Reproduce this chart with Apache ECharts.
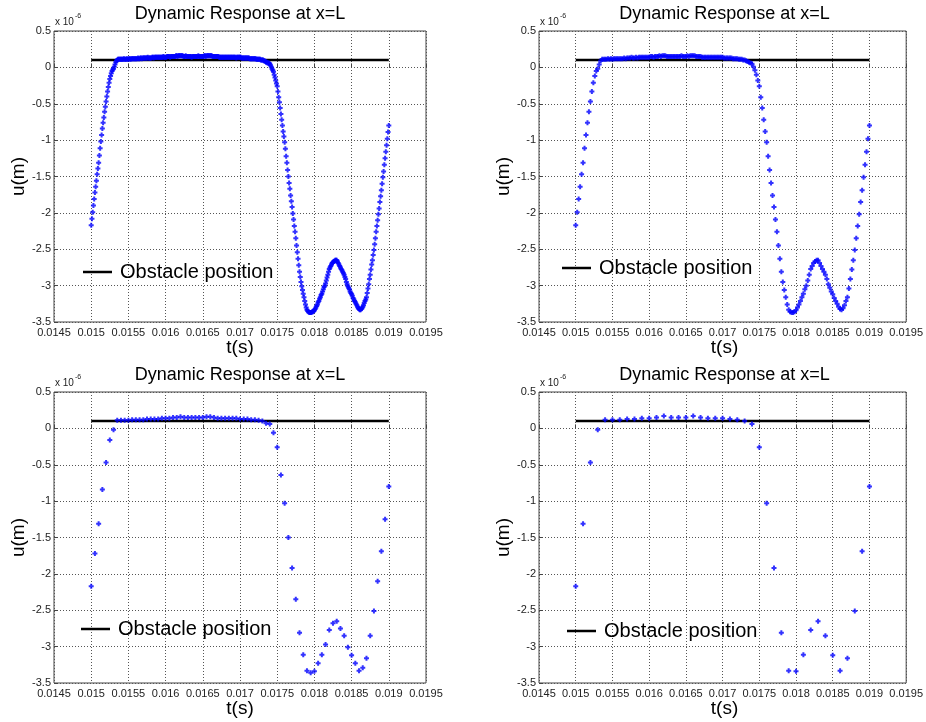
<!DOCTYPE html>
<html><head><meta charset="utf-8">
<script src="https://cdn.jsdelivr.net/npm/echarts@6/dist/echarts.min.js"></script>
<style>html,body{margin:0;padding:0;background:#fff}#c{width:926px;height:722px}</style>
</head><body><div id="c"></div>
<script>
// time sampling of each panel (s)
const tStart = 0.015;
const dt1 = 0.00001, dt2 = 0.00002, dt3 = 0.00005, dt4 = 0.0001;

// u(m) values, in units of 1e-6 m
const u1 = [
-2.17,-2.08,-1.99,-1.90,-1.81,-1.72,-1.64,-1.56,-1.47,-1.39,
-1.31,-1.21,-1.11,-1.02,-0.93,-0.84,-0.76,-0.69,-0.61,-0.54,
-0.47,-0.40,-0.33,-0.27,-0.21,-0.16,-0.12,-0.08,-0.05,-0.03,
-0.02,0.01,0.04,0.07,0.09,0.10,0.11,0.11,0.11,0.11,
0.11,0.11,0.11,0.11,0.12,0.11,0.11,0.11,0.12,0.11,
0.11,0.12,0.12,0.11,0.12,0.12,0.12,0.12,0.12,0.12,
0.12,0.12,0.12,0.13,0.12,0.12,0.13,0.13,0.12,0.13,
0.13,0.13,0.13,0.13,0.13,0.13,0.14,0.13,0.13,0.13,
0.13,0.13,0.14,0.14,0.13,0.14,0.14,0.14,0.14,0.14,
0.14,0.14,0.14,0.14,0.14,0.14,0.14,0.15,0.14,0.14,
0.14,0.14,0.15,0.15,0.15,0.15,0.14,0.15,0.15,0.15,
0.15,0.15,0.15,0.15,0.16,0.16,0.15,0.16,0.16,0.16,
0.16,0.16,0.16,0.16,0.15,0.15,0.15,0.16,0.15,0.15,
0.15,0.15,0.15,0.15,0.15,0.14,0.15,0.15,0.15,0.15,
0.15,0.15,0.15,0.15,0.16,0.15,0.15,0.15,0.15,0.15,
0.15,0.15,0.16,0.16,0.15,0.16,0.16,0.16,0.16,0.16,
0.16,0.16,0.16,0.15,0.15,0.15,0.15,0.15,0.15,0.15,
0.15,0.15,0.14,0.14,0.14,0.14,0.14,0.14,0.14,0.14,
0.14,0.14,0.14,0.14,0.14,0.14,0.14,0.14,0.14,0.14,
0.14,0.14,0.14,0.14,0.14,0.13,0.14,0.14,0.14,0.14,
0.14,0.14,0.13,0.13,0.13,0.13,0.13,0.13,0.13,0.13,
0.13,0.13,0.13,0.12,0.12,0.12,0.12,0.12,0.12,0.12,
0.12,0.12,0.11,0.11,0.11,0.11,0.11,0.11,0.10,0.10,
0.10,0.10,0.09,0.09,0.08,0.07,0.07,0.06,0.06,0.06,
0.05,0.03,0.01,-0.02,-0.04,-0.06,-0.10,-0.14,-0.18,-0.22,
-0.26,-0.33,-0.41,-0.48,-0.56,-0.64,-0.72,-0.80,-0.88,-0.95,
-1.03,-1.12,-1.22,-1.31,-1.41,-1.50,-1.59,-1.67,-1.76,-1.84,
-1.92,-2.01,-2.09,-2.18,-2.26,-2.35,-2.45,-2.54,-2.63,-2.72,
-2.81,-2.88,-2.95,-3.01,-3.06,-3.11,-3.16,-3.21,-3.26,-3.30,
-3.33,-3.35,-3.36,-3.37,-3.37,-3.37,-3.37,-3.36,-3.36,-3.35,
-3.34,-3.32,-3.30,-3.28,-3.26,-3.23,-3.21,-3.18,-3.16,-3.13,
-3.11,-3.08,-3.05,-3.02,-3.00,-2.97,-2.93,-2.89,-2.85,-2.81,
-2.77,-2.75,-2.73,-2.71,-2.69,-2.68,-2.67,-2.66,-2.65,-2.65,
-2.65,-2.67,-2.69,-2.71,-2.73,-2.75,-2.77,-2.79,-2.81,-2.83,
-2.85,-2.88,-2.91,-2.95,-2.98,-3.01,-3.03,-3.05,-3.08,-3.10,
-3.12,-3.14,-3.17,-3.19,-3.21,-3.23,-3.25,-3.27,-3.29,-3.31,
-3.32,-3.33,-3.33,-3.32,-3.31,-3.29,-3.27,-3.24,-3.21,-3.19,
-3.16,-3.10,-3.04,-2.98,-2.91,-2.85,-2.78,-2.71,-2.65,-2.58,
-2.51,-2.43,-2.35,-2.26,-2.18,-2.10,-2.02,-1.94,-1.85,-1.77,
-1.69,-1.60,-1.51,-1.43,-1.34,-1.25,-1.16,-1.07,-0.98,-0.89,
-0.80
];
const u2 = [
-2.17,-1.99,-1.81,-1.64,-1.47,
-1.31,-1.11,-0.93,-0.76,-0.61,
-0.47,-0.33,-0.21,-0.12,-0.05,
-0.02,0.04,0.09,0.11,0.11,
0.11,0.11,0.12,0.11,0.12,
0.11,0.12,0.12,0.12,0.12,
0.12,0.12,0.12,0.13,0.12,
0.13,0.13,0.13,0.14,0.13,
0.13,0.14,0.13,0.14,0.14,
0.14,0.14,0.14,0.14,0.14,
0.14,0.15,0.15,0.14,0.15,
0.15,0.15,0.16,0.15,0.16,
0.16,0.16,0.15,0.15,0.15,
0.15,0.15,0.15,0.15,0.15,
0.15,0.15,0.16,0.15,0.15,
0.15,0.16,0.15,0.16,0.16,
0.16,0.16,0.15,0.15,0.15,
0.15,0.14,0.14,0.14,0.14,
0.14,0.14,0.14,0.14,0.14,
0.14,0.14,0.14,0.14,0.14,
0.14,0.13,0.13,0.13,0.13,
0.13,0.13,0.12,0.12,0.12,
0.12,0.11,0.11,0.11,0.10,
0.10,0.09,0.08,0.07,0.06,
0.05,0.01,-0.04,-0.10,-0.18,
-0.26,-0.41,-0.56,-0.72,-0.88,
-1.03,-1.22,-1.41,-1.59,-1.76,
-1.92,-2.09,-2.26,-2.45,-2.63,
-2.81,-2.95,-3.06,-3.16,-3.26,
-3.33,-3.36,-3.37,-3.37,-3.36,
-3.34,-3.30,-3.26,-3.21,-3.16,
-3.11,-3.05,-3.00,-2.93,-2.85,
-2.77,-2.73,-2.69,-2.67,-2.65,
-2.65,-2.69,-2.73,-2.77,-2.81,
-2.85,-2.91,-2.98,-3.03,-3.08,
-3.12,-3.17,-3.21,-3.25,-3.29,
-3.32,-3.33,-3.31,-3.27,-3.21,
-3.16,-3.04,-2.91,-2.78,-2.65,
-2.51,-2.35,-2.18,-2.02,-1.85,
-1.69,-1.51,-1.34,-1.16,-0.98,
-0.80
];
const u3 = [
-2.17,-1.72, -1.31,-0.84, -0.47,-0.16, -0.02,0.11,
0.11,0.11, 0.11,0.12, 0.12,0.12, 0.12,0.13, 0.13,0.13, 0.13,0.14,
0.14,0.14, 0.15,0.15, 0.16,0.15, 0.15,0.15, 0.15,0.15, 0.15,0.16,
0.16,0.15, 0.14,0.14, 0.14,0.14, 0.14,0.14, 0.13,0.13, 0.13,0.12,
0.12,0.11, 0.10,0.07, 0.06,-0.06, -0.26,-0.64, -1.03,-1.50,
-1.92,-2.35, -2.81,-3.11, -3.33,-3.36, -3.34,-3.23, -3.11,-2.97,
-2.77,-2.68, -2.65,-2.75, -2.85,-3.01, -3.12,-3.23, -3.33,-3.29,
-3.16,-2.85, -2.51,-2.10, -1.69,-1.25, -0.80
];
const u4 = [
-2.17,-1.31,-0.47,-0.02,0.12,0.12,0.12,0.13,0.13,0.14,
0.14,0.15,0.17,0.15,0.15,0.15,0.17,0.15,0.14,0.14,
0.14,0.13,0.12,0.10,0.06,-0.26,-1.03,-1.92,-2.81,-3.33,
-3.34,-3.11,-2.77,-2.65,-2.85,-3.12,-3.33,-3.16,-2.51,-1.69,
-0.80
];

// obstacle position line
const obstacleT = [0.015, 0.019];
const obstacleU = [0.1, 0.1];

// axis tick labels
const xTickLabels = ['0.0145','0.015','0.0155','0.016','0.0165','0.017','0.0175','0.018','0.0185','0.019','0.0195'];
const yTickLabels = ['-3.5','-3','-2.5','-2','-1.5','-1','-0.5','0','0.5'];

const titleText = 'Dynamic Response at x=L';
const legendName = 'Obstacle position';
const xName = 't(s)';
const yName = 'u(m)';

const panels = [
  {u:u1, dt:dt1, left:54,  top:31,  width:372, height:291, legX:83,  legY:271},
  {u:u2, dt:dt2, left:539, top:31,  width:371, height:291, legX:562, legY:267},
  {u:u3, dt:dt3, left:54,  top:392, width:372, height:291, legX:81,  legY:628},
  {u:u4, dt:dt4, left:539, top:392, width:371, height:291, legX:567, legY:630}
];

const FONT = 'Liberation Sans, Arial, sans-serif';
const plusPath = 'path://M1.5,0h2v1.5h1.5v2h-1.5v1.5h-2v-1.5h-1.5v-2h1.5z';

const grids = [], xAxes = [], yAxes = [], series = [], legends = [], graphics = [];
panels.forEach((p, i) => {
  grids.push({left:p.left, top:p.top, width:p.width, height:p.height, show:true,
    borderColor:'#444', borderWidth:1, backgroundColor:'#fff', containLabel:false});
  xAxes.push({type:'value', gridIndex:i, min:0.0145, max:0.0195, interval:0.0005,
    axisLine:{show:false}, axisTick:{show:true, inside:true, length:4, lineStyle:{color:'#444'}},
    splitLine:{show:true, lineStyle:{color:'#555', type:[1,2], width:1}},
    axisLabel:{show:true, fontSize:11, fontFamily:FONT, color:'#222', margin:5,
      showMinLabel:true, showMaxLabel:true,
      formatter: v => xTickLabels[Math.round((v - 0.0145) / 0.0005)]}});
  yAxes.push({type:'value', gridIndex:i, min:-3.5, max:0.5, interval:0.5,
    axisLine:{show:false}, axisTick:{show:true, inside:true, length:4, lineStyle:{color:'#444'}},
    splitLine:{show:true, lineStyle:{color:'#555', type:[1,2], width:1}},
    axisLabel:{show:true, fontSize:11, fontFamily:FONT, color:'#222', margin:3,
      showMinLabel:true, showMaxLabel:true,
      formatter: v => yTickLabels[Math.round((v + 3.5) / 0.5)]}});
  series.push({type:'line', name:legendName, xAxisIndex:i, yAxisIndex:i,
    data: obstacleT.map((t, k) => [t, obstacleU[k]]), symbol:'none',
    lineStyle:{color:'#000', width:2.5}, itemStyle:{color:'#000'}, z:2, silent:true});
  series.push({type:'scatter', name:'response', xAxisIndex:i, yAxisIndex:i,
    data: p.u.map((v, k) => [tStart + k * p.dt, v]), symbol:plusPath, symbolSize:5,
    itemStyle:{color:'#0000ff'}, z:3, silent:true});
  legends.push({left:p.legX, top:p.legY - 9, padding:0, itemWidth:29, itemHeight:2.5,
    icon:'rect', selectedMode:false, data:[legendName],
    textStyle:{fontSize:20, fontFamily:FONT, color:'#000', padding:[0,0,0,3]}});
  const cx = p.left + p.width / 2;
  graphics.push({type:'text', x:cx, y:p.top - 17, style:{text:titleText, font:'18px ' + FONT,
    fill:'#000', align:'center', verticalAlign:'middle'}});
  graphics.push({type:'text', x:cx, y:p.top + p.height + 26, style:{text:xName, font:'19px ' + FONT,
    fill:'#000', align:'center', verticalAlign:'middle'}});
  graphics.push({type:'text', x:p.left - 35, y:p.top + p.height / 2, rotation:Math.PI / 2,
    style:{text:yName, font:'19px ' + FONT, fill:'#000', align:'center', verticalAlign:'middle'}});
  graphics.push({type:'text', x:p.left + 1, y:p.top - 9, style:{text:'x 10', font:'10px ' + FONT,
    fill:'#222', align:'left', verticalAlign:'middle'}});
  graphics.push({type:'text', x:p.left + 21, y:p.top - 15, style:{text:'-6', font:'7px ' + FONT,
    fill:'#222', align:'left', verticalAlign:'middle'}});
});

const chart = echarts.init(document.getElementById('c'), null, {renderer:'canvas'});
chart.setOption({
  animation:false,
  backgroundColor:'#fff',
  grid:grids, xAxis:xAxes, yAxis:yAxes, series:series, legend:legends, graphic:graphics
});
</script>
</body></html>
